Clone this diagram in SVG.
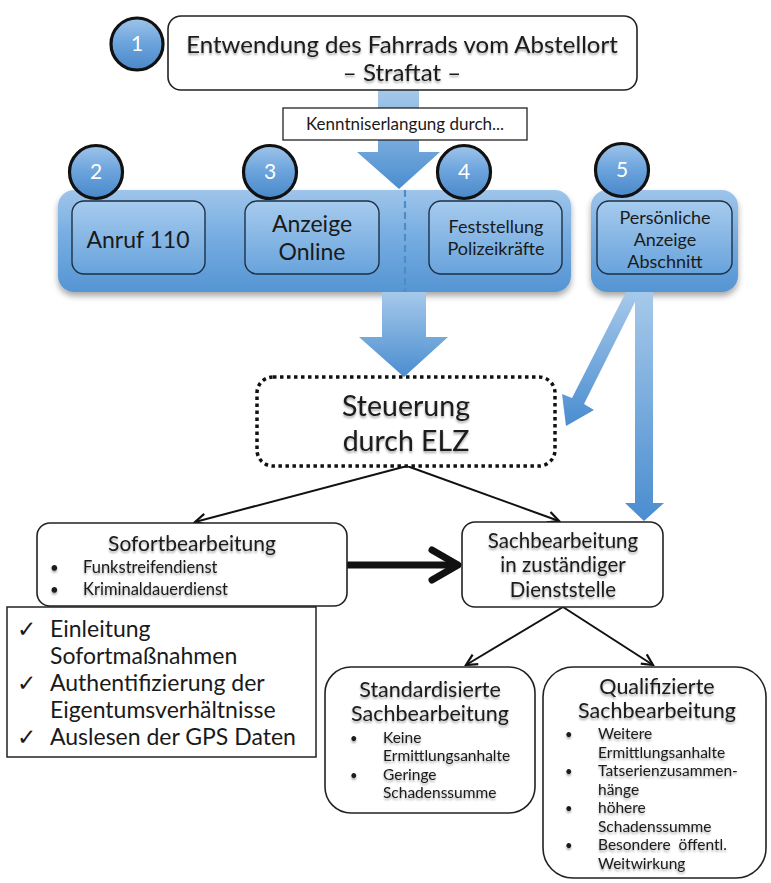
<svg xmlns="http://www.w3.org/2000/svg" width="771" height="883" viewBox="0 0 771 883">
<defs>
<style>
text{font-family:Lato,"Liberation Sans","DejaVu Sans",sans-serif;fill:#1a1a1a}
.c{text-anchor:middle}
.box{fill:#fff;stroke:#222;stroke-width:1.6}
.panel{fill:url(#gPanel)}
.inner{fill:url(#gInner);stroke:#1e2f44;stroke-width:1.4}
.circ{fill:url(#gCircle);stroke:#111;stroke-width:3.2}
.num{fill:#fff;font-size:21px;text-anchor:middle}
.bArrow{fill:url(#gArrow)}
.ln{stroke:#111;stroke-width:2;fill:none}
.chk{font-family:"DejaVu Sans",sans-serif;font-size:23px}
</style>
<linearGradient id="gPanel" x1="0" y1="0" x2="0" y2="1"><stop offset="0" stop-color="#9fc5ea"/><stop offset="0.45" stop-color="#76ade2"/><stop offset="1" stop-color="#5595d3"/></linearGradient>
<linearGradient id="gInner" x1="0" y1="0" x2="0" y2="1"><stop offset="0" stop-color="#a6cbee"/><stop offset="1" stop-color="#68a3dc"/></linearGradient>
<linearGradient id="gCircle" x1="0" y1="0" x2="0" y2="1"><stop offset="0" stop-color="#9ec4ea"/><stop offset="0.5" stop-color="#6aa3dc"/><stop offset="1" stop-color="#4a88c9"/></linearGradient>
<linearGradient id="gArrow" x1="0" y1="0" x2="0" y2="1"><stop offset="0" stop-color="#a6c9ea"/><stop offset="1" stop-color="#4a8dd0"/></linearGradient>
<filter id="sh" x="-10%" y="-20%" width="120%" height="150%"><feGaussianBlur in="SourceAlpha" stdDeviation="3"/><feOffset dy="4"/><feComponentTransfer><feFuncA type="linear" slope="0.35"/></feComponentTransfer><feMerge><feMergeNode/><feMergeNode in="SourceGraphic"/></feMerge></filter>
<filter id="ts" x="-5%" y="-20%" width="110%" height="150%"><feGaussianBlur in="SourceAlpha" stdDeviation="1.2"/><feOffset dy="1.5"/><feComponentTransfer><feFuncA type="linear" slope="0.35"/></feComponentTransfer><feMerge><feMergeNode/><feMergeNode in="SourceGraphic"/></feMerge></filter>
<marker id="ah" viewBox="0 0 14 14" refX="12" refY="7" markerWidth="14" markerHeight="14" markerUnits="userSpaceOnUse" orient="auto"><path d="M1,1.5 L12,7 L1,12.5" fill="none" stroke="#111" stroke-width="2.2"/></marker>
</defs>

<!-- blue panels -->
<g id="panel-left">
<rect class="panel" x="58" y="190" width="513" height="102" rx="16" filter="url(#sh)"/>
<line x1="405" y1="190" x2="405" y2="292" stroke="#4f8cc6" stroke-width="2.2" stroke-dasharray="7 4"/>
</g>
<g id="panel-right">
<rect class="panel" x="591" y="190" width="147" height="102" rx="16" filter="url(#sh)"/>
</g>

<!-- connectors -->
<g id="connectors">
<path class="bArrow" d="M378,90 L419,90 L419,152 L440,152 L399,189 L357,152 L378,152 Z"/>
<path class="bArrow" d="M382,292 L426,292 L426,337 L448,337 L404,377 L359,337 L382,337 Z"/>
<path class="bArrow" d="M626,292 L640,292 L584,404 L594,410 L566,426 L562,394 L572,398 Z"/>
<path class="bArrow" d="M635,292 L653,292 L653,503 L664,503 L644,521 L625,503 L635,503 Z"/>
<line class="ln" x1="407" y1="466" x2="195" y2="522" marker-end="url(#ah)"/>
<line class="ln" x1="407" y1="466" x2="559" y2="521" marker-end="url(#ah)"/>
<line class="ln" x1="563" y1="607" x2="466" y2="665" marker-end="url(#ah)"/>
<line class="ln" x1="563" y1="607" x2="653" y2="665" marker-end="url(#ah)"/>
<line x1="347" y1="565" x2="455" y2="565" stroke="#111" stroke-width="7"/>
<path d="M432,550 L458,565 L432,580" fill="none" stroke="#111" stroke-width="7" stroke-linecap="round" stroke-linejoin="round"/>
</g>

<g id="n1">
<rect class="box" x="168" y="16" width="469" height="74" rx="13"/>
<g filter="url(#ts)">
<text class="c" x="402" y="53" font-size="24">Entwendung des Fahrrads vom Abstellort</text>
<text class="c" x="402" y="81" font-size="24">– Straftat –</text>
</g>
<circle class="circ" cx="137" cy="44" r="26"/>
<text class="num" x="137" y="51">1</text>
</g>

<g id="kenntnis">
<rect x="283" y="108" width="244" height="32" fill="#fff" stroke="#222" stroke-width="1.3"/>
<text class="c" x="405" y="130" font-size="17">Kenntniserlangung durch...</text>
</g>

<g id="n2">
<rect class="inner" x="72" y="201" width="133" height="73" rx="12"/>
<text class="c" x="138" y="248" font-size="23">Anruf 110</text>
<circle class="circ" cx="96" cy="172" r="26.5"/>
<text class="num" x="96" y="179">2</text>
</g>
<g id="n3">
<rect class="inner" x="245" y="201" width="134" height="73" rx="12"/>
<text class="c" x="312" y="232" font-size="23">Anzeige</text>
<text class="c" x="312" y="260" font-size="23">Online</text>
<circle class="circ" cx="270" cy="172" r="26.5"/>
<text class="num" x="270" y="179">3</text>
</g>
<g id="n4">
<rect class="inner" x="429" y="201" width="133" height="73" rx="12"/>
<text class="c" x="496" y="233" font-size="18">Feststellung</text>
<text class="c" x="496" y="255" font-size="18">Polizeikräfte</text>
<circle class="circ" cx="464" cy="172" r="26.5"/>
<text class="num" x="464" y="179">4</text>
</g>
<g id="n5">
<rect class="inner" x="597" y="201" width="135" height="73" rx="12"/>
<text class="c" x="665" y="224" font-size="18">Persönliche</text>
<text class="c" x="665" y="246" font-size="18">Anzeige</text>
<text class="c" x="665" y="268" font-size="18">Abschnitt</text>
<circle class="circ" cx="622" cy="170" r="26.5"/>
<text class="num" x="622" y="177">5</text>
</g>

<g id="elz">
<rect x="257" y="377" width="298" height="89" rx="16" fill="#fff" stroke="#111" stroke-width="3.5" stroke-dasharray="3.5 3.5"/>
<g filter="url(#ts)">
<text class="c" x="406" y="416" font-size="28.5">Steuerung</text>
<text class="c" x="406" y="451" font-size="28.5">durch ELZ</text>
</g>
</g>

<g id="sofort">
<rect class="box" x="37" y="523" width="310" height="83" rx="13"/>
<g filter="url(#ts)">
<text class="c" x="192" y="551" font-size="21">Sofortbearbeitung</text>
<text x="50" y="573" font-size="15">•</text>
<text x="83" y="573" font-size="16.5">Funkstreifendienst</text>
<text x="50" y="595" font-size="15">•</text>
<text x="83" y="595" font-size="16.5">Kriminaldauerdienst</text>
</g>
</g>

<g id="check">
<rect x="7" y="607" width="309" height="150" fill="#fff" stroke="#222" stroke-width="1.5"/>
<text class="chk" x="17" y="637">✓</text>
<text x="50" y="637" font-size="23">Einleitung</text>
<text x="50" y="664" font-size="23">Sofortmaßnahmen</text>
<text class="chk" x="17" y="691">✓</text>
<text x="50" y="691" font-size="23">Authentifizierung der</text>
<text x="50" y="718" font-size="23">Eigentumsverhältnisse</text>
<text class="chk" x="17" y="745">✓</text>
<text x="50" y="745" font-size="23">Auslesen der GPS Daten</text>
</g>

<g id="sach">
<rect class="box" x="462" y="522" width="201" height="85" rx="13"/>
<g filter="url(#ts)">
<text class="c" x="563" y="547.5" font-size="20.5">Sachbearbeitung</text>
<text class="c" x="563" y="572" font-size="20.5">in zuständiger</text>
<text class="c" x="563" y="596.5" font-size="20.5">Dienststelle</text>
</g>
</g>

<g id="standard">
<rect class="box" x="325" y="667" width="210" height="146" rx="26"/>
<g filter="url(#ts)">
<text class="c" x="430" y="697" font-size="21.5">Standardisierte</text>
<text class="c" x="430" y="721" font-size="21.5">Sachbearbeitung</text>
<text x="350" y="743" font-size="13">•</text>
<text x="383" y="743" font-size="15.5">Keine</text>
<text x="383" y="761" font-size="15.5">Ermittlungsanhalte</text>
<text x="350" y="779.5" font-size="13">•</text>
<text x="383" y="779.5" font-size="15.5">Geringe</text>
<text x="383" y="798" font-size="15.5">Schadenssumme</text>
</g>
</g>

<g id="quali">
<rect class="box" x="543" y="667" width="223" height="211" rx="30"/>
<g filter="url(#ts)">
<text class="c" x="657" y="694" font-size="21.5">Qualifizierte</text>
<text class="c" x="657" y="718" font-size="21.5">Sachbearbeitung</text>
<text x="565" y="739" font-size="13">•</text>
<text x="598" y="739" font-size="15.5">Weitere</text>
<text x="598" y="757.5" font-size="15.5">Ermittlungsanhalte</text>
<text x="565" y="776" font-size="13">•</text>
<text x="598" y="776" font-size="15.5">Tatserienzusammen-</text>
<text x="598" y="794.5" font-size="15.5">hänge</text>
<text x="565" y="813" font-size="13">•</text>
<text x="598" y="813" font-size="15.5">höhere</text>
<text x="598" y="831.5" font-size="15.5">Schadenssumme</text>
<text x="565" y="850" font-size="13">•</text>
<text x="598" y="850" font-size="15.5" word-spacing="4">Besondere öffentl.</text>
<text x="598" y="868.5" font-size="15.5">Weitwirkung</text>
</g>
</g>
</svg>
